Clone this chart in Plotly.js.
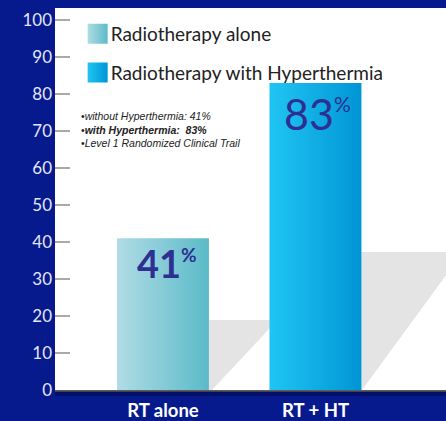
<!DOCTYPE html>
<html>
<head>
<meta charset="utf-8">
<script src="https://cdn.plot.ly/plotly-3.0.1.min.js"></script>
<style>
  html, body { margin: 0; padding: 0; background: #061a8e; }
  #chart { width: 446px; height: 421px; }
</style>
</head>
<body>
<div id="chart"></div>
<script>
// ---- data ----
const categories = ['RT alone', 'RT + HT'];
const seriesNames = ['Radiotherapy alone', 'Radiotherapy with Hyperthermia'];
const values = [41, 83];
const yTickVals = [0, 10, 20, 30, 40, 50, 60, 70, 80, 90, 100];
const noteLines = [
  '•<i>without Hyperthermia: 41%</i>',
  '•<b><i>with Hyperthermia:&nbsp;&nbsp;83%</i></b>',
  '•<i>Level 1 Randomized Clinical Trail</i>'
];

// ---- styles ----
const solidColors = ['#86cad5', '#0badE6'];
const gradStops = [['#b0dce5', '#5bbac8'], ['#20c5f3', '#0095d6']];
const labelFont = [
  {family: 'Lato', size: 38, color: '#2e2f92', weight: 'bold'},
  {family: 'Lato', size: 43, color: '#2e2f92', weight: 'normal'}
];
const pctSize = [19, 21];
const labelShift = [{x: 4, y: -25}, {x: 2, y: -31}];
const barWidth = 0.603;

const traces = categories.map((c, i) => ({
  type: 'bar',
  x: [c],
  y: [values[i]],
  name: seriesNames[i],
  legendgroup: 'g' + i,
  width: barWidth,
  marker: {color: solidColors[i], line: {width: 0}},
  hoverinfo: 'skip'
}));

const annotations = categories.map((c, i) => ({
  x: c, y: values[i], xref: 'x', yref: 'y',
  text: values[i] + '<sup><span style="font-size:' + pctSize[i] + 'px">%</span></sup>',
  showarrow: false,
  xanchor: 'center', yanchor: 'middle',
  xshift: labelShift[i].x, yshift: labelShift[i].y,
  font: labelFont[i]
}));
annotations.push({
  xref: 'paper', yref: 'paper', x: 0.062, y: 0.737,
  xanchor: 'left', yanchor: 'top', align: 'left',
  showarrow: false,
  text: noteLines.join('<br>'),
  font: {family: 'Liberation Sans', size: 10.5, color: '#222'}
});

// shadows (decorative), relative to bar edges
const half = barWidth / 2;
const shapes = [
  {type: 'path', layer: 'below', xref: 'x', yref: 'y',
   path: `M ${0 + half} 18.9 L 0.751 18.9 L ${0 + half + 0.02} 0 L ${0 + half} 0 Z`,
   fillcolor: '#e4e4e4', line: {width: 0}},
  {type: 'path', layer: 'below', xref: 'x', yref: 'y',
   path: `M ${1 + half} 37.3 L 1.967 37.3 L ${1 + half + 0.004} 0 L ${1 + half} 0 Z`,
   fillcolor: '#e4e4e4', line: {width: 0}},
  {type: 'rect', xref: 'paper', yref: 'paper', x0: 0, x1: 1, y0: -0.016, y1: -0.002,
   fillcolor: 'rgba(0,0,40,0.35)', line: {width: 0}}
];

const layout = {
  width: 446, height: 421,
  margin: {l: 55, r: 0, t: 8, b: 31, pad: 0},
  paper_bgcolor: '#061a8e',
  plot_bgcolor: '#ffffff',
  barmode: 'overlay',
  showlegend: true,
  legend: {
    x: 0.04, y: 0.982, xanchor: 'left', yanchor: 'top',
    bgcolor: 'rgba(0,0,0,0)', borderwidth: 0,
    font: {family: 'Lato', size: 19, color: '#222'},
    tracegroupgap: 11, traceorder: 'grouped'
  },
  xaxis: {
    type: 'category', range: [-0.708, 1.856],
    showgrid: false, zeroline: false,
    showline: true, linecolor: '#666', linewidth: 2,
    ticks: '', ticklabelstandoff: 3,
    tickfont: {family: 'Lato', size: 18.5, color: '#ffffff', weight: 'bold'}
  },
  yaxis: {
    range: [0, 103.24], tickvals: yTickVals,
    showgrid: false, zeroline: false, showline: false,
    ticks: 'inside', ticklen: 15, tickwidth: 2, tickcolor: '#a9a9a9',
    ticklabelstandoff: 2,
    tickfont: {family: 'Lato', size: 17, color: '#e2e6f6'}
  },
  annotations: annotations,
  shapes: shapes
};

function decorate(gd) {
  const svg = gd.querySelector('.main-svg');
  const ns = 'http://www.w3.org/2000/svg';
  let defs = svg.querySelector('defs');
  if (!defs) { defs = document.createElementNS(ns, 'defs'); svg.insertBefore(defs, svg.firstChild); }
  gradStops.forEach((st, i) => {
    const lg = document.createElementNS(ns, 'linearGradient');
    lg.setAttribute('id', 'bargrad' + i);
    lg.setAttribute('x1', '0'); lg.setAttribute('y1', '0');
    lg.setAttribute('x2', '1'); lg.setAttribute('y2', '0');
    st.forEach((c, k) => {
      const s = document.createElementNS(ns, 'stop');
      s.setAttribute('offset', k === 0 ? '0' : '1');
      s.setAttribute('stop-color', c);
      lg.appendChild(s);
    });
    defs.appendChild(lg);
  });
  gd.querySelectorAll('.barlayer .trace').forEach((t, i) => {
    t.querySelectorAll('path').forEach(p => { p.style.fill = 'url(#bargrad' + i + ')'; });
  });
  gd.querySelectorAll('.legend .traces').forEach((t, i) => {
    t.querySelectorAll('.legendpoints path').forEach(p => {
      p.setAttribute('d', 'M-3,-10H17V10H-3Z');
      p.style.fill = 'url(#bargrad' + i + ')';
      p.style.stroke = 'none';
    });
  });
}

Plotly.newPlot('chart', traces, layout, {displayModeBar: false, staticPlot: true})
  .then(gd => decorate(gd));
</script>
</body>
</html>
